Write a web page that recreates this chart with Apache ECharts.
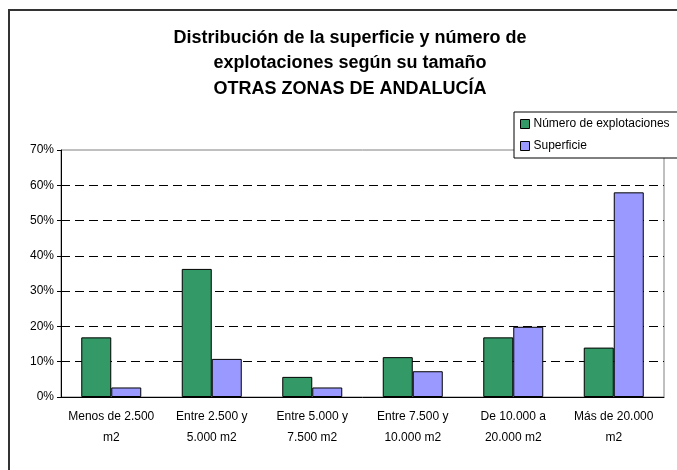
<!DOCTYPE html>
<html>
<head>
<meta charset="utf-8">
<script src="https://cdn.jsdelivr.net/npm/echarts@6/dist/echarts.min.js"></script>
<style>
  html, body { margin: 0; padding: 0; background: #fff; }
  #chart { width: 677px; height: 470px; }
</style>
</head>
<body>
<div id="chart"></div>
<script>
// datos (en %)
var categorias = ['Menos de 2.500\nm2', 'Entre 2.500 y\n5.000 m2', 'Entre 5.000 y\n7.500 m2',
  'Entre 7.500 y\n10.000 m2', 'De 10.000 a\n20.000 m2', 'Más de 20.000\nm2']
var numeroExplotaciones = [16.9, 36.3, 5.7, 11.3, 16.9, 14.0]
var superficie = [2.7, 10.8, 2.7, 7.3, 19.9, 58.0]
var nombresSeries = ['Número de explotaciones', 'Superficie']

var fuente = 'Liberation Sans, Arial, sans-serif'

;(function () {
  var myChart = echarts.init(document.getElementById('chart'))
  var option = {
    animation: false,
    color: ['#339966', '#9999ff'],
    textStyle: { fontFamily: fuente, color: '#000' },
    title: {
      text: 'Distribución de la superficie y número de\nexplotaciones según su tamaño\nOTRAS ZONAS DE ANDALUCÍA',
      left: 345,
      top: 20,
      textAlign: 'center',
      textStyle: {
        fontFamily: fuente,
        fontSize: 18,
        fontWeight: 'bold',
        color: '#000',
        lineHeight: 25.5
      }
    },
    // marco exterior del grafico
    graphic: [{
      type: 'rect',
      shape: { x: 9, y: 10, width: 720, height: 520 },
      style: { fill: 'none', stroke: '#333', lineWidth: 2 },
      silent: true
    }],
    legend: {
      orient: 'vertical',
      left: 514,
      top: 112,
      data: nombresSeries,
      backgroundColor: '#fff',
      borderColor: '#000',
      borderWidth: 1,
      padding: [6, 20, 6, 6],
      itemWidth: 9,
      itemHeight: 9,
      itemGap: 10,
      icon: 'rect',
      textStyle: { fontFamily: fuente, fontSize: 12, color: '#000', padding: [0, 0, 0, -1] },
      itemStyle: { borderColor: '#000', borderWidth: 1 }
    },
    grid: {
      left: 61,
      right: 13,
      top: 150,
      bottom: 73,
      show: true,
      borderColor: '#808080',
      borderWidth: 1,
      backgroundColor: '#fff'
    },
    xAxis: {
      type: 'category',
      data: categorias,
      axisLine: { lineStyle: { color: '#000', width: 1 } },
      axisTick: { length: 4, lineStyle: { color: '#000' } },
      axisLabel: {
        color: '#000',
        fontSize: 12,
        lineHeight: 21,
        margin: 9,
        interval: 0
      }
    },
    yAxis: {
      type: 'value',
      min: 0,
      max: 70,
      interval: 10,
      axisLine: { show: true, lineStyle: { color: '#000', width: 1 } },
      axisTick: { show: true, length: 4, lineStyle: { color: '#000' } },
      axisLabel: { color: '#000', fontSize: 12, margin: 7, formatter: '{value}%' },
      splitLine: {
        show: true,
        showMinLine: false,
        showMaxLine: false,
        lineStyle: { color: '#000', type: [9, 5], width: 1 }
      }
    },
    series: [{
      name: nombresSeries[0],
      type: 'bar',
      data: numeroExplotaciones,
      barWidth: 30,
      barGap: '0%',
      itemStyle: { borderColor: '#000', borderWidth: 1 }
    }, {
      name: nombresSeries[1],
      type: 'bar',
      data: superficie,
      barWidth: 30,
      barGap: '0%',
      itemStyle: { borderColor: '#000', borderWidth: 1 }
    }]
  }
  myChart.setOption(option)
})()
</script>
</body>
</html>
